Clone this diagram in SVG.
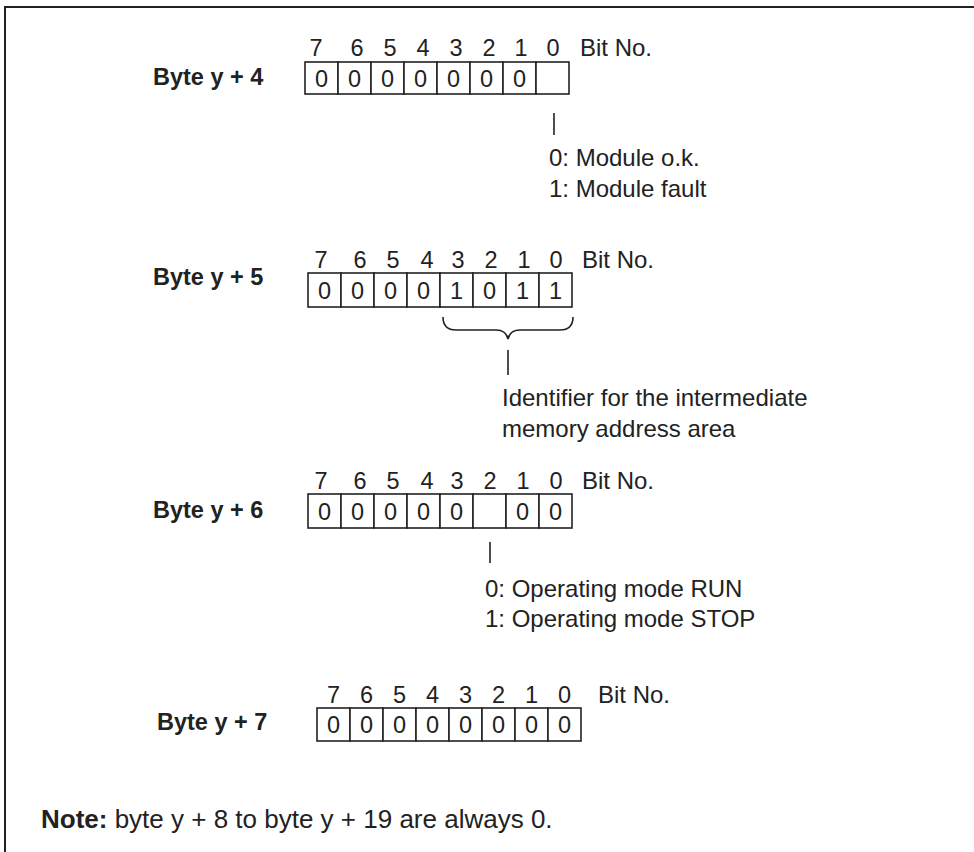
<svg xmlns="http://www.w3.org/2000/svg" width="974" height="852" viewBox="0 0 974 852">
<style>
.t{font-family:"Liberation Sans",Arial,sans-serif;font-size:24px;fill:#222}
.b{font-family:"Liberation Sans",Arial,sans-serif;font-size:23.5px;font-weight:bold;fill:#222}
.c{fill:#fff;stroke:#222;stroke-width:1.6}
.d{font-family:"Liberation Sans",Arial,sans-serif;font-size:23.5px;fill:#222;text-anchor:middle}
.ln{fill:none;stroke:#222;stroke-width:1.6}
</style>
<rect width="974" height="852" fill="#fff"/>
<rect x="5" y="7" width="1000" height="1000" fill="none" stroke="#222" stroke-width="2"/>

<g id="byte4">
<text class="b" x="153" y="85">Byte y + 4</text>
<g class="d">
<text x="316" y="56">7</text><text x="357" y="56">6</text><text x="390" y="56">5</text><text x="423" y="56">4</text>
<text x="456" y="56">3</text><text x="489" y="56">2</text><text x="521" y="56">1</text><text x="553" y="56">0</text>
</g>
<text class="t" x="580" y="56">Bit No.</text>
<rect class="c" x="305" y="62" width="33" height="32"/><rect class="c" x="338" y="62" width="33" height="32"/>
<rect class="c" x="371" y="62" width="33" height="32"/><rect class="c" x="404" y="62" width="33" height="32"/>
<rect class="c" x="437" y="62" width="33" height="32"/><rect class="c" x="470" y="62" width="33" height="32"/>
<rect class="c" x="503" y="62" width="33" height="32"/><rect class="c" x="536" y="62" width="33" height="32"/>
<g class="d">
<text x="321.5" y="87">0</text><text x="354.5" y="87">0</text><text x="387.5" y="87">0</text><text x="420.5" y="87">0</text>
<text x="453.5" y="87">0</text><text x="486.5" y="87">0</text><text x="519.5" y="87">0</text>
</g>
<text class="t" x="549" y="166">0: Module o.k.</text>
<text class="t" x="549" y="197">1: Module fault</text>
</g>

<g id="byte5">
<text class="b" x="153" y="285">Byte y + 5</text>
<g class="d">
<text x="321" y="268">7</text><text x="360" y="268">6</text><text x="393" y="268">5</text><text x="427" y="268">4</text>
<text x="458" y="268">3</text><text x="491" y="268">2</text><text x="524" y="268">1</text><text x="556" y="268">0</text>
</g>
<text class="t" x="582" y="268">Bit No.</text>
<rect class="c" x="308" y="273" width="33" height="34"/><rect class="c" x="341" y="273" width="33" height="34"/>
<rect class="c" x="374" y="273" width="33" height="34"/><rect class="c" x="407" y="273" width="33" height="34"/>
<rect class="c" x="440" y="273" width="33" height="34"/><rect class="c" x="473" y="273" width="33" height="34"/>
<rect class="c" x="506" y="273" width="33" height="34"/><rect class="c" x="539" y="273" width="33" height="34"/>
<g class="d">
<text x="324.5" y="299">0</text><text x="357.5" y="299">0</text><text x="390.5" y="299">0</text><text x="423.5" y="299">0</text>
<text x="456.5" y="299">1</text><text x="489.5" y="299">0</text><text x="522.5" y="299">1</text><text x="555.5" y="299">1</text>
</g>
<text class="t" x="502" y="406">Identifier for the intermediate</text>
<text class="t" x="502" y="437">memory address area</text>
</g>

<g id="byte6">
<text class="b" x="153" y="518">Byte y + 6</text>
<g class="d">
<text x="321" y="489">7</text><text x="360" y="489">6</text><text x="393" y="489">5</text><text x="427" y="489">4</text>
<text x="457" y="489">3</text><text x="490" y="489">2</text><text x="523" y="489">1</text><text x="556" y="489">0</text>
</g>
<text class="t" x="582" y="489">Bit No.</text>
<rect class="c" x="308" y="494" width="33" height="34"/><rect class="c" x="341" y="494" width="33" height="34"/>
<rect class="c" x="374" y="494" width="33" height="34"/><rect class="c" x="407" y="494" width="33" height="34"/>
<rect class="c" x="440" y="494" width="33" height="34"/><rect class="c" x="473" y="494" width="33" height="34"/>
<rect class="c" x="506" y="494" width="33" height="34"/><rect class="c" x="539" y="494" width="33" height="34"/>
<g class="d">
<text x="324.5" y="520">0</text><text x="357.5" y="520">0</text><text x="390.5" y="520">0</text><text x="423.5" y="520">0</text>
<text x="456.5" y="520">0</text><text x="522.5" y="520">0</text><text x="555.5" y="520">0</text>
</g>
<text class="t" x="485" y="597">0: Operating mode RUN</text>
<text class="t" x="485" y="627">1: Operating mode STOP</text>
</g>

<g id="byte7">
<text class="b" x="157" y="730">Byte y + 7</text>
<g class="d">
<text x="333.5" y="703">7</text><text x="366.5" y="703">6</text><text x="399.5" y="703">5</text><text x="432.5" y="703">4</text>
<text x="465.5" y="703">3</text><text x="498.5" y="703">2</text><text x="531.5" y="703">1</text><text x="564.5" y="703">0</text>
</g>
<text class="t" x="598" y="703">Bit No.</text>
<rect class="c" x="317" y="708" width="33" height="33"/><rect class="c" x="350" y="708" width="33" height="33"/>
<rect class="c" x="383" y="708" width="33" height="33"/><rect class="c" x="416" y="708" width="33" height="33"/>
<rect class="c" x="449" y="708" width="33" height="33"/><rect class="c" x="482" y="708" width="33" height="33"/>
<rect class="c" x="515" y="708" width="33" height="33"/><rect class="c" x="548" y="708" width="33" height="33"/>
<g class="d">
<text x="333.5" y="733">0</text><text x="366.5" y="733">0</text><text x="399.5" y="733">0</text><text x="432.5" y="733">0</text>
<text x="465.5" y="733">0</text><text x="498.5" y="733">0</text><text x="531.5" y="733">0</text><text x="564.5" y="733">0</text>
</g>
</g>

<g id="note">
<text class="t" x="41" y="828" style="font-size:26px"><tspan font-weight="bold">Note:</tspan> byte y + 8 to byte y + 19 are always 0.</text>
</g>

<g id="connectors">
<line class="ln" x1="554" y1="113" x2="554" y2="135"/>
<path class="ln" d="M443,317 Q443,330 456,330 L496,330 Q506,330 508,339 Q510,330 520,330 L560,330 Q573,330 573,317"/>
<line class="ln" x1="508" y1="350" x2="508" y2="375"/>
<line class="ln" x1="490" y1="542" x2="490" y2="563"/>
</g>
</svg>
